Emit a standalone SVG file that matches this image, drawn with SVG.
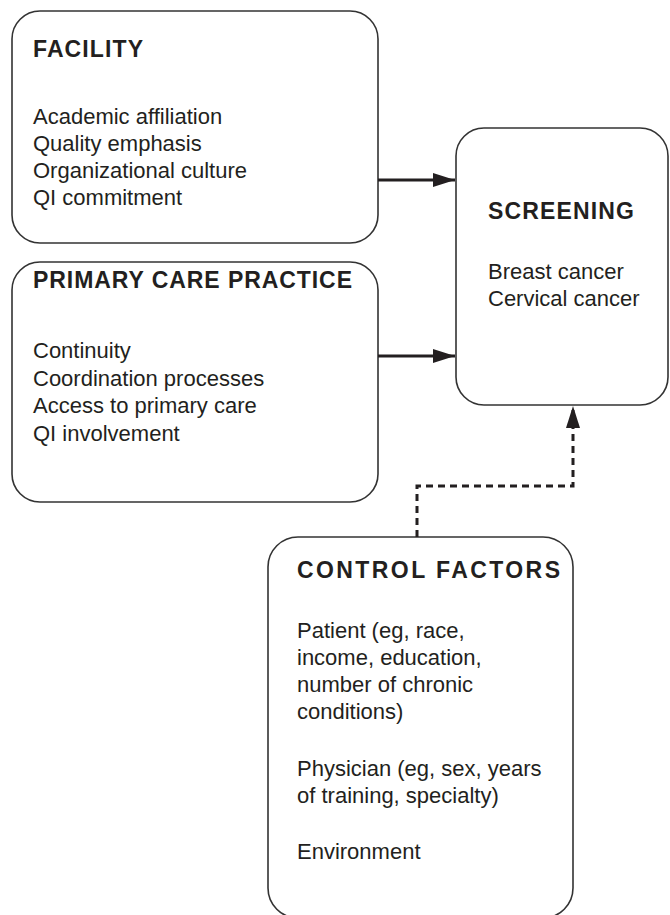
<svg xmlns="http://www.w3.org/2000/svg" width="670" height="915" viewBox="0 0 670 915">
<style>
.box{fill:#fff;stroke:#333;stroke-width:1.6}
.t{font-family:"Liberation Sans",Arial,sans-serif;font-size:23px;font-weight:bold;fill:#231f20}
.b{font-family:"Liberation Sans",Arial,sans-serif;font-size:22px;fill:#231f20}
.solid{stroke:#231f20;stroke-width:3;fill:none}
.dash{stroke:#231f20;stroke-width:3;fill:none;stroke-dasharray:7 5}
</style>
<defs>
<marker id="ah" markerUnits="userSpaceOnUse" markerWidth="24" markerHeight="14" refX="22" refY="7" orient="auto">
<path d="M0,0 L22,7 L0,14 Z" fill="#231f20"/>
</marker>
</defs>
<g id="facility">
<rect class="box" x="12" y="11" width="366" height="232" rx="28"/>
<text class="t" x="33" y="57" textLength="110" lengthAdjust="spacing">FACILITY</text>
<text class="b" x="33" y="124">Academic affiliation</text>
<text class="b" x="33" y="151">Quality emphasis</text>
<text class="b" x="33" y="178">Organizational culture</text>
<text class="b" x="33" y="205">QI commitment</text>
</g>
<g id="primary">
<rect class="box" x="12" y="262" width="366" height="240" rx="28"/>
<text class="t" x="33" y="288" textLength="319" lengthAdjust="spacing">PRIMARY CARE PRACTICE</text>
<text class="b" x="33" y="358">Continuity</text>
<text class="b" x="33" y="386">Coordination processes</text>
<text class="b" x="33" y="413">Access to primary care</text>
<text class="b" x="33" y="441">QI involvement</text>
</g>
<g id="screening">
<rect class="box" x="456" y="128" width="212" height="277" rx="28"/>
<text class="t" x="488" y="219" textLength="146" lengthAdjust="spacing">SCREENING</text>
<text class="b" x="488" y="279">Breast cancer</text>
<text class="b" x="488" y="306">Cervical cancer</text>
</g>
<g id="control">
<rect class="box" x="268" y="537" width="305" height="381" rx="30"/>
<text class="t" x="297" y="578" textLength="263" lengthAdjust="spacing">CONTROL FACTORS</text>
<text class="b" x="297" y="638">Patient (eg, race,</text>
<text class="b" x="297" y="665">income, education,</text>
<text class="b" x="297" y="692">number of chronic</text>
<text class="b" x="297" y="719">conditions)</text>
<text class="b" x="297" y="776">Physician (eg, sex, years</text>
<text class="b" x="297" y="803">of training, specialty)</text>
<text class="b" x="297" y="859">Environment</text>
</g>
<g id="connectors">
<line class="solid" x1="378" y1="180" x2="455" y2="180" marker-end="url(#ah)"/>
<line class="solid" x1="378" y1="356" x2="455" y2="356" marker-end="url(#ah)"/>
<path class="dash" d="M417,537 V486 H573 V406" marker-end="url(#ah)"/>
</g>
</svg>
